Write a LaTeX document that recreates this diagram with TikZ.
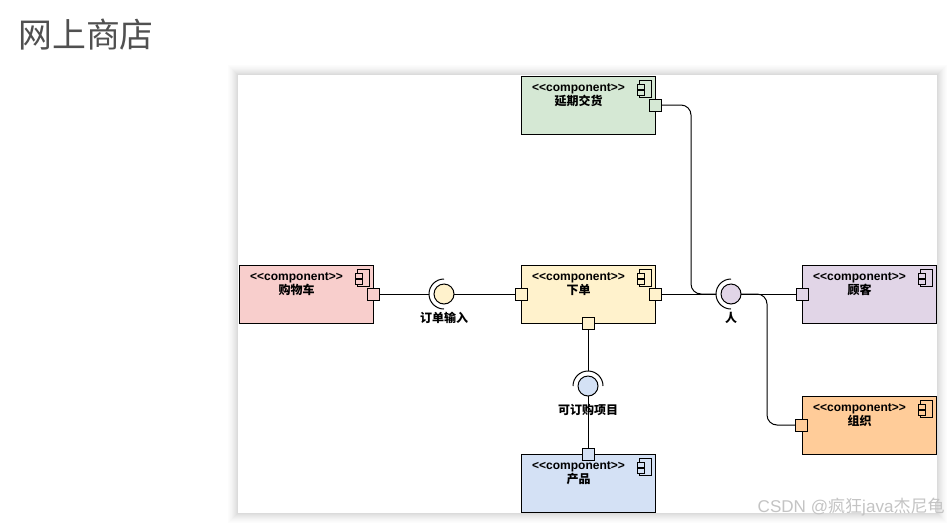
\documentclass[tikz,border=0pt]{standalone}
\usepackage{fontspec}
\setmainfont{Liberation Sans}
\newfontfamily\cjk{Noto Sans CJK SC}
\usetikzlibrary{positioning, calc}
\definecolor{cartpink}{HTML}{F8CECC}
\definecolor{orderyellow}{HTML}{FFF2CC}
\definecolor{delaygreen}{HTML}{D5E8D4}
\definecolor{customerpurple}{HTML}{E1D5E7}
\definecolor{orgorange}{HTML}{FFCC99}
\definecolor{productblue}{HTML}{D4E1F5}
\definecolor{titlegrey}{HTML}{505050}
\definecolor{markgrey}{HTML}{C4C4C4}
\newcommand{\stereotype}{<{}<component>{}>}
\tikzset{
  comp/.style={
    draw=black, line width=.75pt, rectangle, outer sep=0pt, inner sep=0pt,
    minimum width=100.5pt, minimum height=43.5pt},
  comptext/.style={
    anchor=north, align=center, inner sep=0pt,
    font=\fontsize{9}{10.5}\selectfont\bfseries},
  port/.style={
    draw=black, line width=.75pt, rectangle, outer sep=0pt, inner sep=0pt,
    minimum size=9pt},
  ball/.style={
    draw=black, line width=.75pt, circle, outer sep=0pt, inner sep=0pt,
    minimum size=15pt},
  socket/.style={circle, outer sep=0pt, inner sep=0pt, minimum size=22.5pt},
  arcline/.style={draw=black, line width=.75pt},
  wire/.style={draw=black, line width=.75pt},
  ifacetext/.style={
    inner sep=0pt, font=\fontsize{9}{10.5}\selectfont\bfseries\cjk},
  pics/compicon/.style={code={
    \draw[line width=.75pt] (-16,4) rectangle (-4,21);
    \draw[line width=.75pt, fill=#1] (-18,8) rectangle (-11,13);
    \draw[line width=.75pt, fill=#1] (-18,14) rectangle (-11,19);
  }},
}
\begin{document}
\begin{tikzpicture}[x=.75pt, y=-.75pt]
  \useasboundingbox (0,0) rectangle (948,522);
  \fill[white] (0,0) rectangle (948,522);
  \node[anchor=west, inner sep=0pt, text=titlegrey, font=\fontsize{25.4}{28}\selectfont\cjk]
       (title) at (18,35) {网上商店};
  % soft edge of the sheet
  \foreach \d/\g in {10/1, 9/2, 8/3, 7/4, 6/5.5, 5/7, 4/8.5, 3/10, 2/12, 1/14}
    \fill[black!\g] (238-\d,75-\d) rectangle (937+\d,513+\d);
  \fill[white] (238,75) rectangle (937,513);

  \node[comp, fill=orderyellow] (order) at (588,294) {};
  \node[comp, fill=cartpink, left=111pt of order] (cart) {};
  \node[comp, fill=delaygreen, above=98.25pt of order] (delay) {};
  \node[comp, fill=customerpurple, right=110.25pt of order] (customer) {};
  \node[comp, fill=orgorange, below=54.75pt of customer] (org) {};
  \node[comp, fill=productblue, below=98.25pt of order] (product) {};

  \node[comptext] (carttext) at ($(cart.north)+(-9.5,7)$) {\stereotype\\{\cjk 购物车}};
  \node[comptext] (ordertext) at ($(order.north)+(-9.5,7)$) {\stereotype\\{\cjk 下单}};
  \node[comptext] (delaytext) at ($(delay.north)+(-9.5,7)$) {\stereotype\\{\cjk 延期交货}};
  \node[comptext] (customertext) at ($(customer.north)+(-9.5,7)$) {\stereotype\\{\cjk 顾客}};
  \node[comptext] (orgtext) at ($(org.north)+(-9.5,7)$) {\stereotype\\{\cjk 组织}};
  \node[comptext] (producttext) at ($(product.north)+(-9.5,7)$) {\stereotype\\{\cjk 产品}};

  \pic at (cart.north east) {compicon=cartpink};
  \pic at (order.north east) {compicon=orderyellow};
  \pic at (delay.north east) {compicon=delaygreen};
  \pic at (customer.north east) {compicon=customerpurple};
  \pic at (org.north east) {compicon=orgorange};
  \pic at (product.north east) {compicon=productblue};

  \node[port, fill=cartpink] (cartport) at (cart.east) {};
  \node[port, fill=orderyellow] (orderin) at (order.west) {};
  \node[port, fill=orderyellow] (orderout) at (order.east) {};
  \node[port, fill=orderyellow] (orderdown) at (order.south) {};
  \node[port, fill=delaygreen] (delayport) at (delay.east) {};
  \node[port, fill=customerpurple] (customerport) at (customer.west) {};
  \node[port, fill=orgorange] (orgport) at ($(org.west)+(-1,0)$) {};
  \node[port, fill=productblue] (productport) at (product.north) {};

  \node[socket] (inputsocket) at (444,294) {};
  \node[socket] (personsocket) at (731,294) {};
  \node[socket] (itemsocket) at (588,386) {};

  \coordinate (delaybend) at (691,294);
  \coordinate (orgbend) at (767,294);
  \draw[wire] (cartport) -- (inputsocket.west);
  \draw[wire] (inputsocket.center) -- (orderin);
  \draw[wire] (orderout) -- (personsocket.west);
  \draw[wire, rounded corners=7.5pt] (delayport) -| (delaybend) -- (personsocket.west);
  \draw[wire] (personsocket.center) -- (customerport);
  \draw[wire, rounded corners=7.5pt] (personsocket.center) -- (orgbend) |- (orgport);
  \draw[wire] (orderdown) -- (itemsocket.north);
  \draw[wire] (itemsocket.center) -- (productport);

  \node[ball, fill=orderyellow] (inputball) at (inputsocket) {};
  \node[ball, fill=customerpurple] (personball) at (personsocket) {};
  \node[ball, fill=productblue] (itemball) at (itemsocket) {};
  \draw[arcline] (inputsocket.north) arc[start angle=90, end angle=270, radius=11.25pt];
  \draw[arcline] (personsocket.north) arc[start angle=90, end angle=270, radius=11.25pt];
  \draw[arcline] (itemsocket.west) arc[start angle=180, end angle=0, radius=11.25pt];

  \node[ifacetext] (inputtext) at (444,318) {订单输入};
  \node[ifacetext] (persontext) at (731,318) {人};
  \node[ifacetext] (itemtext) at (588,410) {可订购项目};

  \node[anchor=east, inner sep=0pt, text=markgrey, font=\fontsize{12.8}{15}\selectfont]
       (mark) at (945,507) {CSDN @{\cjk 疯狂}java{\cjk 杰尼龟}};
\end{tikzpicture}
\end{document}
